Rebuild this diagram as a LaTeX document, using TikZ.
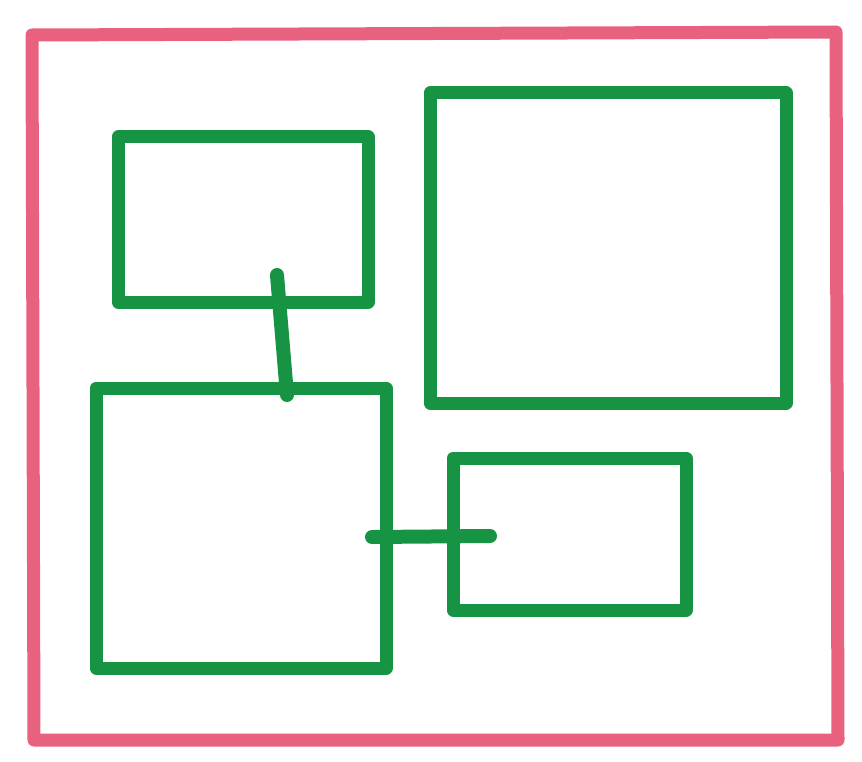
\documentclass[tikz,border=0pt]{standalone}
\definecolor{pinkline}{RGB}{232,98,128}
\definecolor{greenline}{RGB}{22,148,68}
\begin{document}
\begin{tikzpicture}[x=0.03cm,y=-0.03cm,
  frame/.style={draw=pinkline,line width=13*0.03cm,line join=round,line cap=round},
  gbox/.style={draw=greenline,line width=13*0.03cm,line join=round,inner sep=0pt,outer sep=0pt,anchor=north west},
  link/.style={draw=greenline,line width=14*0.03cm,line cap=round}]
\useasboundingbox (0,0) rectangle (862,762);
\draw[frame] (32,35) -- (836,32) -- (838,740) -- (34,740) -- cycle;
\node[gbox,minimum width=250*0.03cm,minimum height=165*0.03cm] (b1) at (118,137) {};
\node[gbox,minimum width=356*0.03cm,minimum height=310*0.03cm] (b2) at (430,93) {};
\node[gbox,minimum width=290*0.03cm,minimum height=280*0.03cm] (b3) at (96,388) {};
\node[gbox,minimum width=233*0.03cm,minimum height=152*0.03cm] (b4) at (453,458) {};
\coordinate (c1) at (277,275);
\coordinate (c2) at (287,395);
\coordinate (c3) at (372,537);
\coordinate (c4) at (490,536);
\draw[link] (c1) -- (c2);
\draw[link] (c3) -- (c4);
\end{tikzpicture}
\end{document}
